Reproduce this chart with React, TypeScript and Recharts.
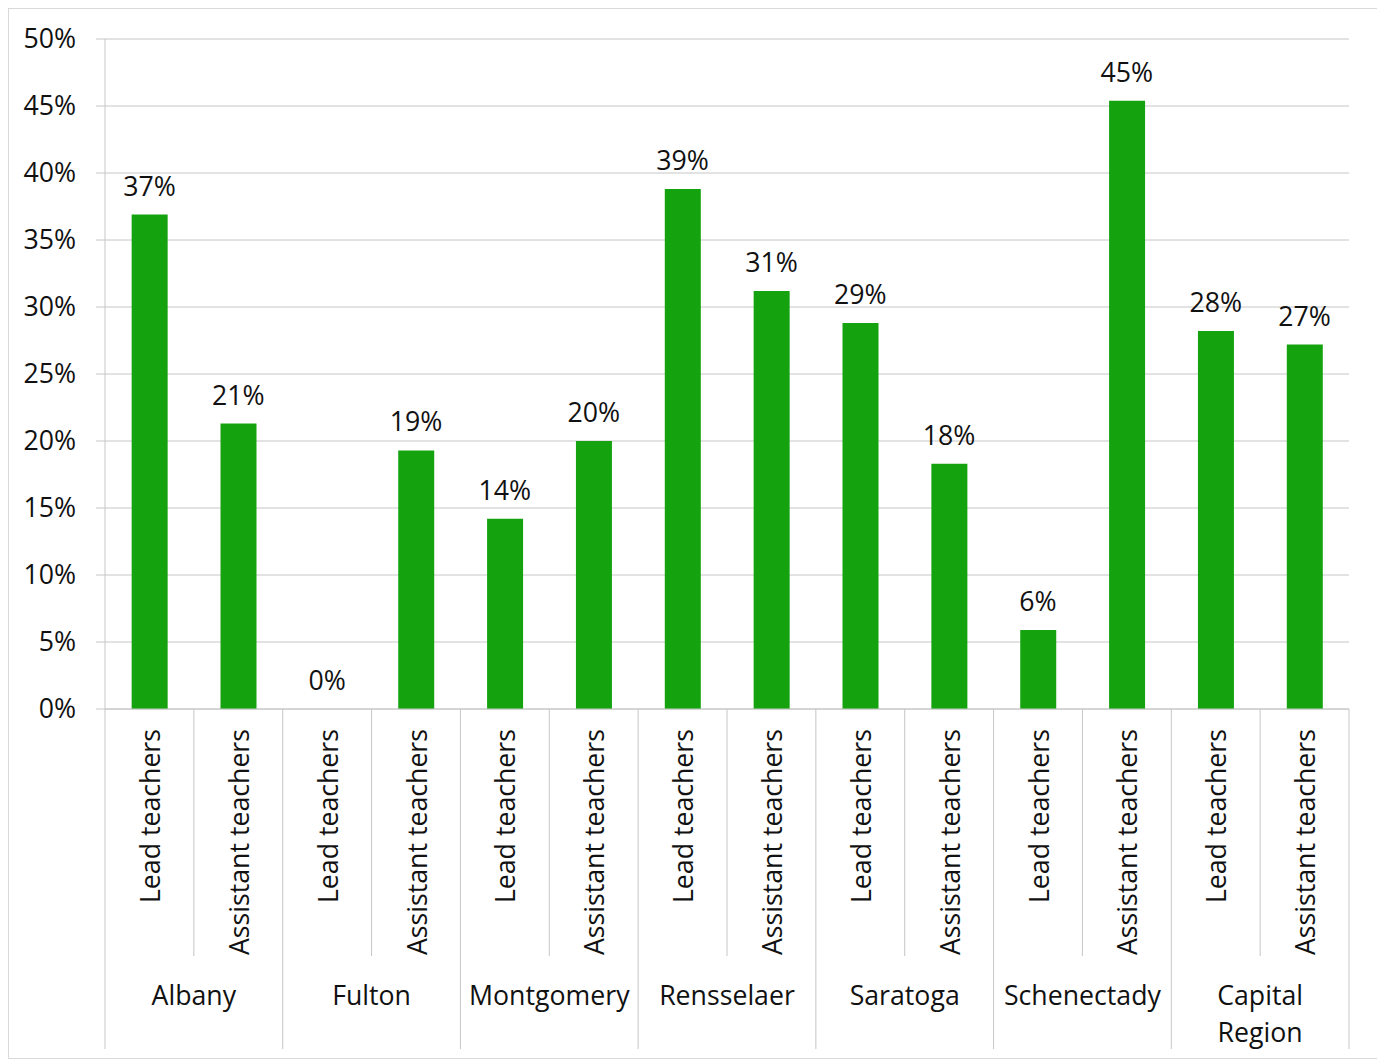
import React from 'react';
import { ComposedChart, Bar, Line, XAxis, YAxis, CartesianGrid, LabelList } from 'recharts';

const groups = ['Albany', 'Fulton', 'Montgomery', 'Rensselaer', 'Saratoga', 'Schenectady', 'Capital Region'];
const roles = ['Lead teachers', 'Assistant teachers'];
const leadValues = [36.9, 0, 14.2, 38.8, 28.8, 5.9, 28.2];
const assistantValues = [21.3, 19.3, 20.0, 31.2, 18.3, 45.4, 27.2];
const yTicks = [0, 5, 10, 15, 20, 25, 30, 35, 40, 45, 50];

const chartData = groups.flatMap((g, i) => [
  { group: g, role: roles[0], value: leadValues[i], key: `${g}-lead` },
  { group: g, role: roles[1], value: assistantValues[i], key: `${g}-asst` },
]);

const WIDTH = 1368;
const HEIGHT = 1048;
const MARGIN = { top: 30, right: 28, bottom: 8, left: 0 };
const Y_WIDTH = 96;
const X_HEIGHT = 340;
const BAND = (WIDTH - MARGIN.left - MARGIN.right - Y_WIDTH) / chartData.length;
const FONT = '"Open Sans", sans-serif';
const FS = 26.7;
const LINE = '#c6c6c6';
const TEXT = '#111';

const wrapLabel = (name: string) => (name.includes(' ') && name.length > 12 ? name.split(' ') : [name]);

const CategoryTick: React.FC<any> = ({ x, y, index, payload }) => {
  const row = chartData[index];
  const left = x - BAND / 2;
  const isGroupStart = index % 2 === 0;
  const isLast = index === chartData.length - 1;
  const groupLines = wrapLabel(row.group);
  return (
    <g>
      <line x1={left} x2={left} y1={y} y2={y + (isGroupStart ? X_HEIGHT : 247)} stroke={LINE} />
      {isLast && <line x1={x + BAND / 2} x2={x + BAND / 2} y1={y} y2={y + X_HEIGHT} stroke={LINE} />}
      <text
        x={x}
        y={y + 20}
        transform={`rotate(-90, ${x}, ${y + 20})`}
        textAnchor="end"
        dominantBaseline="central"
        fontSize={FS}
        fontFamily={FONT}
        fill={TEXT}
      >
        {payload.value}
      </text>
      {isGroupStart && (
        <text x={x + BAND / 2} y={y + 285} textAnchor="middle" dominantBaseline="central" fontSize={FS} fontFamily={FONT} fill={TEXT}>
          {groupLines.map((ln, i) => (
            <tspan key={ln} x={x + BAND / 2} dy={i === 0 ? 0 : 37}>
              {ln}
            </tspan>
          ))}
        </text>
      )}
    </g>
  );
};

const App: React.FC = () => {
  return (
    <div style={{ width: WIDTH, height: HEIGHT + 1, border: '1px solid #d9d9d9', background: '#fff' }}>
      <ComposedChart width={WIDTH} height={HEIGHT} data={chartData} margin={MARGIN} barCategoryGap="30%">
        <CartesianGrid vertical={false} stroke={LINE} />
        <XAxis
          dataKey="role"
          interval={0}
          height={X_HEIGHT}
          tickLine={false}
          tickSize={0}
          tickMargin={0}
          axisLine={{ stroke: LINE }}
          tick={<CategoryTick />}
        />
        <YAxis
          domain={[0, 50]}
          ticks={yTicks}
          width={Y_WIDTH}
          tickSize={9}
          tickMargin={20}
          axisLine={{ stroke: LINE }}
          tickLine={{ stroke: LINE }}
          tickFormatter={(v: number) => `${v}%`}
          tick={{ fontSize: FS, fontFamily: FONT, fill: TEXT }}
        />
        <Bar dataKey="value" fill="#14a30e" isAnimationActive={false} />
        {/* invisible line only to carry the value labels (also shows the 0% one) */}
        <Line dataKey="value" stroke="none" dot={false} activeDot={false} legendType="none" isAnimationActive={false}>
          <LabelList
            dataKey="value"
            position="top"
            offset={19}
            formatter={(v: any) => `${Math.round(Number(v))}%`}
            style={{ fontSize: FS, fontFamily: FONT, fill: TEXT }}
          />
        </Line>
      </ComposedChart>
    </div>
  );
};

export default App;
